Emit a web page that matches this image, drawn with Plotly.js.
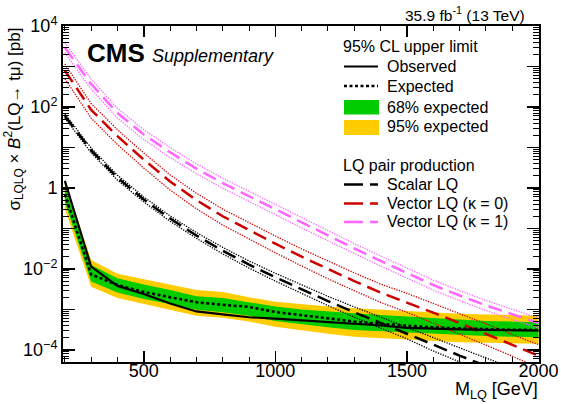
<!DOCTYPE html>
<html><head><meta charset="utf-8">
<script src="https://cdn.plot.ly/plotly-3.0.1.min.js"></script>
<style>body{margin:0;background:#fff;} #plot{width:561px;height:404px;}</style>
</head><body><div id="plot"></div>
<script>
// ---- data ----
const mass = [200,300,400,500,600,700,800,900,1000,1100,1200,1300,1400,1500,1600,1700,1800,1900,2000];

const observed = [1.5,0.0114,0.0038,0.0024,0.0014,8.9e-4,7.5e-4,6.4e-4,5.9e-4,5.4e-4,4.9e-4,4.5e-4,4.0e-4,3.5e-4,3.3e-4,3.2e-4,3.1e-4,3.0e-4,3.0e-4];
const expected = [0.7,0.0073,0.0040,0.0027,0.0020,0.0015,0.0013,0.00115,8.6e-4,7.1e-4,5.9e-4,5.0e-4,4.4e-4,3.9e-4,3.6e-4,3.4e-4,3.25e-4,3.15e-4,3.1e-4];

const band68Low  = [0.45,0.0049,0.0026,0.0018,0.00135,0.00098,0.00085,0.0007,0.00052,0.00043,0.00036,0.00031,0.00029,0.00026,0.000245,0.00023,0.00022,0.00021,0.000205];
const band68High = [1.1,0.0125,0.0059,0.0041,0.0030,0.0021,0.0019,0.0015,0.00118,0.0010,0.00088,0.0008,0.00073,0.00066,0.0006,0.00056,0.00052,0.00049,0.00048];
const band95Low  = [0.3,0.0036,0.0019,0.00135,0.0010,0.0007,0.00062,0.0005,0.00037,0.0003,0.00025,0.00021,0.000195,0.00018,0.000165,0.000155,0.00015,0.000145,0.000142];
const band95High = [1.5,0.0166,0.0076,0.0056,0.0041,0.0030,0.0027,0.0020,0.00155,0.00132,0.00117,0.00106,0.00098,0.00089,0.00083,0.00078,0.00075,0.00072,0.0007];

const scalarLQ     = [60,8.5,1.8,0.52,0.175,0.067,0.028,0.0128,0.0062,0.0031,0.0016,8.5e-4,4.6e-4,2.6e-4,1.35e-4,7.2e-5,4.0e-5,2.2e-5,1.25e-5];
const scalarLQUp   = [68,9.7,2.06,0.60,0.204,0.079,0.034,0.0157,0.0078,0.0040,0.0021,0.00115,6.4e-4,3.7e-4,2.0e-4,1.1e-4,6.3e-5,3.6e-5,2.1e-5];
const scalarLQDown = [53,7.4,1.56,0.45,0.150,0.057,0.0235,0.0105,0.0050,0.00245,0.00124,6.4e-4,3.4e-4,1.87e-4,9.4e-5,4.9e-5,2.6e-5,1.4e-5,7.6e-6];

const vectorK0     = [800,85,19,5.0,1.45,0.5,0.2,0.09,0.042,0.02,0.0098,0.005,0.0026,0.0015,8.3e-4,4.6e-4,2.5e-4,1.35e-4,7.2e-5];
const vectorK0Up   = [1150,122,27.5,7.3,2.1,0.74,0.3,0.137,0.065,0.031,0.0154,0.008,0.0042,0.0025,0.0014,7.9e-4,4.4e-4,2.4e-4,1.35e-4];
const vectorK0Down = [500,53,11.8,3.1,0.89,0.305,0.121,0.054,0.025,0.0118,0.0057,0.0029,0.00149,8.5e-4,4.6e-4,2.5e-4,1.33e-4,7.0e-5,3.6e-5];

const vectorK1     = [2950,370,71,21,7.6,3.0,1.32,0.63,0.295,0.138,0.066,0.032,0.0158,0.0079,0.004,0.0022,0.00126,7.6e-4,4.6e-4];
const vectorK1Up   = [3900,490,93,27.5,10.0,3.95,1.74,0.83,0.39,0.182,0.087,0.042,0.0209,0.0105,0.0053,0.0029,0.00167,0.00101,6.1e-4];
const vectorK1Down = [2200,275,53,15.6,5.6,2.25,0.98,0.47,0.22,0.103,0.049,0.024,0.0118,0.0059,0.003,0.00164,9.4e-4,5.7e-4,3.45e-4];

const yTickVals = [1e-4,1e-3,1e-2,1e-1,1,1e1,1e2,1e3,1e4];
const yTickText = ['10<sup>\u22124</sup>','','10<sup>\u22122</sup>','','1','','10<sup>2</sup>','','10<sup>4</sup>'];
const xTickVals = [500,1000,1500,2000];
const xTickText = ['500','1000','1500','2000'];

// ---- styles ----
const GREEN = '#00cc00', YELLOW = '#ffcc00', RED = '#cc0000', PINK = '#ff66ff';
const FONT = 'Liberation Sans, Arial, Helvetica, sans-serif';

function tr(y, color, width, dash, extra) {
  return Object.assign({x: mass, y: y, type: 'scatter', mode: 'lines', hoverinfo: 'skip', showlegend: false,
    line: {color: color, width: width, dash: dash}}, extra || {});
}

const traces = [
  tr(band95Low, YELLOW, 0, 'solid'),
  tr(band95High, YELLOW, 0, 'solid', {fill: 'tonexty', fillcolor: YELLOW}),
  tr(band68Low, GREEN, 0, 'solid'),
  tr(band68High, GREEN, 0, 'solid', {fill: 'tonexty', fillcolor: GREEN}),
  tr(scalarLQUp, 'black', 1.3, '1.3px,1.3px'),
  tr(scalarLQDown, 'black', 1.3, '1.3px,1.3px'),
  tr(vectorK0Up, RED, 1.3, '1.3px,1.3px'),
  tr(vectorK0Down, RED, 1.3, '1.3px,1.3px'),
  tr(vectorK1Up, PINK, 1.3, '1.3px,1.3px'),
  tr(vectorK1Down, PINK, 1.3, '1.3px,1.3px'),
  tr(scalarLQ, 'black', 2.5, '14px,7px'),
  tr(vectorK0, RED, 2.5, '14px,7px'),
  tr(vectorK1, PINK, 2.5, '14px,7px'),
  tr(expected, 'black', 2.5, '3px,2.5px'),
  tr(observed, 'black', 2.2, 'solid')
];

// minor tick positions
const yMinor = [];
for (let e = -5; e <= 3; e++) for (let k = 2; k <= 9; k++) { const v = k * Math.pow(10, e); if (v > 5e-5 && v < 1e4) yMinor.push(v); }
const xMinor = [];
for (let m = 200; m <= 2000; m += 100) if (m % 500 !== 0) xMinor.push(m);

// pixel -> paper helpers (plot area: x 63..539, y 26..362)
const L = 63, R = 539, T = 26, B = 362;
const px = x => (x - L) / (R - L);
const py = y => (B - y) / (B - T);

const shapes = [];
const annotations = [];
function legLine(y, color, dash, width) {
  shapes.push({type: 'line', xref: 'paper', yref: 'paper', x0: px(344), x1: px(378), y0: py(y), y1: py(y),
    line: {color: color, width: width, dash: dash}});
}
function legBox(y0, y1, color) {
  shapes.push({type: 'rect', xref: 'paper', yref: 'paper', x0: px(344), x1: px(379), y0: py(y0), y1: py(y1),
    line: {width: 0}, fillcolor: color});
}
function txt(x, y, text, size, anchor, extra) {
  annotations.push(Object.assign({xref: 'paper', yref: 'paper', x: px(x), y: py(y), text: text, showarrow: false,
    xanchor: anchor, yanchor: 'middle', font: {family: FONT, size: size, color: 'black'}}, extra || {}));
}

txt(341, 46, '95% CL upper limit', 16, 'left');
legLine(66.5, 'black', 'solid', 2.2); txt(385, 66.5, 'Observed', 16, 'left');
legLine(86, 'black', '3px,2.5px', 2.5); txt(385, 86, 'Expected', 16, 'left');
legBox(100, 114.5, GREEN); txt(385, 107, '68% expected', 16, 'left');
legBox(120, 135, YELLOW); txt(385, 126, '95% expected', 16, 'left');
txt(341, 165, 'LQ pair production', 16, 'left');
legLine(184.5, 'black', '19px,7px', 2.5); txt(385, 184.5, 'Scalar LQ', 16, 'left');
legLine(203.5, RED, '19px,7px', 2.5); txt(385, 203.5, 'Vector LQ (\u03ba = 0)', 16, 'left');
legLine(222, PINK, '19px,7px', 2.5); txt(385, 222, 'Vector LQ (\u03ba = 1)', 16, 'left');

txt(85, 53, '<b>CMS</b> <i><span style="font-size:18px">Supplementary</span></i>', 26, 'left');
txt(527, 14, '35.9 fb<sup>-1</sup> (13 TeV)', 15.5, 'right');
txt(540, 390, 'M<sub>LQ</sub> [GeV]', 18, 'right');
txt(14, 26, '\u03c3<sub>LQLQ</sub> \u00d7 <i>B</i><sup>2</sup>(LQ\u2192 t\u03bc) [pb]', 17, 'center',
  {textangle: -90, yanchor: 'top', y: 1});

const axisCommon = {showline: true, linecolor: 'black', linewidth: 2, mirror: 'allticks', ticks: 'inside',
  tickcolor: 'black', showgrid: false, zeroline: false, tickfont: {family: FONT, size: 18, color: 'black'}};

const layout = {
  width: 561, height: 404,
  margin: {l: L, r: 561 - R, t: T, b: 404 - B},
  paper_bgcolor: 'white', plot_bgcolor: 'white',
  showlegend: false,
  xaxis: Object.assign({}, axisCommon, {range: [193, 2002], tickmode: 'array', tickvals: xTickVals, ticktext: xTickText,
    ticklen: 11, tickwidth: 1.5, ticklabelstandoff: -9,
    minor: {tickmode: 'array', tickvals: xMinor, ticklen: 5, tickwidth: 1, ticks: 'inside', tickcolor: 'black'}}),
  yaxis: Object.assign({}, axisCommon, {type: 'log', range: [-4.3, 4.001], tickmode: 'array', tickvals: yTickVals, ticktext: yTickText,
    ticklen: 12, tickwidth: 1.5,
    minor: {tickmode: 'array', tickvals: yMinor, ticklen: 6, tickwidth: 1, ticks: 'inside', tickcolor: 'black'}}),
  shapes: shapes,
  annotations: annotations
};

Plotly.newPlot('plot', traces, layout, {displayModeBar: false, staticPlot: true});
</script>
</body></html>
